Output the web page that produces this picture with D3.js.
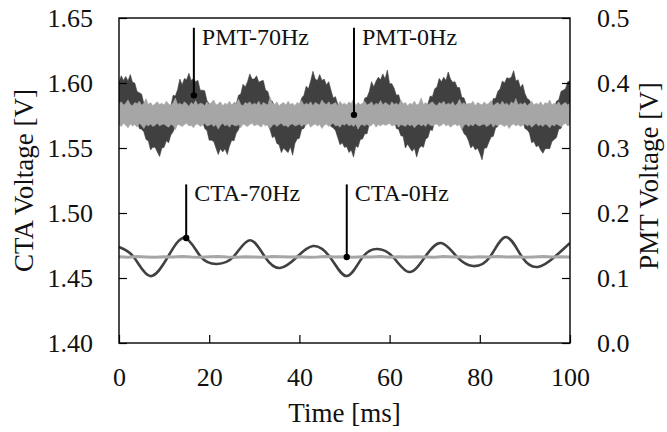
<!DOCTYPE html>
<html>
<head>
<meta charset="utf-8">
<script src="https://cdn.jsdelivr.net/npm/d3@7"></script>
<style>
  body { margin: 0; background: #fff; }
  svg { font-family: "Liberation Serif", "Times New Roman", serif; }
</style>
</head>
<body>
<div id="chart"></div>
<script>
// Time axis [ms]
const timeTicks = [0, 20, 40, 60, 80, 100];
const ctaTicks = [1.40, 1.45, 1.50, 1.55, 1.60, 1.65];
const pmtTicks = [0.0, 0.1, 0.2, 0.3, 0.4, 0.5];

// CTA-70Hz: peaks / troughs / crossings
const cta70Time = [0, 3.3, 6.9, 10.8, 14.6, 18.2, 21.7, 25.3, 29.0, 32.4, 35.7, 39.4, 43.0, 46.8, 50.5, 54.0,
    57.4, 60.8, 64.3, 67.8, 71.4, 75.0, 78.5, 82.2, 85.8, 89.4, 92.9, 96.5, 100];
const cta70Volt = [1.4738, 1.4660, 1.4515, 1.4660, 1.4808, 1.4660, 1.4608, 1.4660, 1.4790, 1.4660, 1.4577, 1.4660,
    1.4746, 1.4660, 1.4515, 1.4660, 1.4723, 1.4660, 1.4546, 1.4660, 1.4769, 1.4660, 1.4592, 1.4660, 1.4815, 1.4660,
    1.4585, 1.4660, 1.4770];

// CTA-0Hz, one value every 2 ms
const cta0StepMs = 2;
const cta0Volt = [1.4663, 1.4660, 1.4665, 1.4662, 1.4659, 1.4664, 1.4661, 1.4666, 1.4662, 1.4660,
    1.4663, 1.4665, 1.4661, 1.4659, 1.4664, 1.4662, 1.4660, 1.4665, 1.4663, 1.4661,
    1.4664, 1.4660, 1.4662, 1.4666, 1.4661, 1.4663, 1.4659, 1.4664, 1.4662, 1.4665,
    1.4660, 1.4663, 1.4661, 1.4664, 1.4662, 1.4659, 1.4665, 1.4661, 1.4663, 1.4660,
    1.4664, 1.4662, 1.4666, 1.4661, 1.4663, 1.4660, 1.4662, 1.4665, 1.4661, 1.4663, 1.4662];

// PMT signals: upper / lower envelope of the noisy trace every 0.5 ms, in mV
const pmtStepMs = 0.5;
const pmt70HighMv = [401, 411, 404,
    410, 403, 413, 401, 400, 387, 385, 383, 369, 367, 354, 353, 354, 345, 347, 351, 345, 353, 355, 365,
    365, 381, 380, 390, 406, 397, 407, 405, 415, 404, 407, 402, 404, 389, 389, 388, 373, 368, 365, 352,
    351, 353, 344, 348, 346, 353, 350, 359, 370, 368, 381, 383, 398, 394, 402, 414, 406,
    406, 411, 401, 403, 404, 389, 387, 374, 372, 364, 363, 351, 351, 350, 345, 350, 344, 353, 356, 367,
    365, 377, 381, 395, 391, 403, 418, 406, 404, 413, 404, 406, 397, 402, 389, 377, 379, 367, 364, 354,
    352, 352, 345, 348, 344, 355, 353, 361, 362, 377, 378, 387, 402, 394, 403, 409, 405,
    414, 406, 420, 399, 399, 392, 381, 382, 370, 367, 355, 354, 354, 346, 348, 344, 353, 351, 359, 358,
    368, 380, 379, 391, 394, 407, 402, 409, 404, 417, 406, 401, 402, 393, 393, 378, 377, 367, 363, 353,
    355, 347, 347, 351, 345, 352, 353, 361, 361, 376, 376, 387, 391, 403, 400, 408, 407,
    409, 419, 403, 405, 393, 398, 384, 376, 374, 366, 355, 358, 350, 350, 344, 347, 352, 350, 358, 359,
    372, 374, 387, 389, 391, 402, 403];
const pmt70LowMv = [353, 352, 359,
    357, 360, 351, 353, 345, 344, 330, 329, 325, 313, 311, 297, 301, 301, 294, 287, 300, 301, 311, 308,
    320, 325, 334, 336, 344, 344, 357, 354, 359, 357, 352, 356, 350, 339, 342, 330, 327, 312, 312, 310,
    300, 290, 299, 294, 299, 290, 303, 312, 311, 323, 328, 338, 339, 347, 348, 357, 355,
    358, 352, 357, 350, 350, 338, 336, 328, 316, 318, 307, 305, 293, 300, 296, 293, 302, 289, 307, 314,
    315, 329, 330, 339, 339, 352, 353, 353, 359, 356, 359, 350, 350, 346, 333, 331, 327, 316, 305, 308,
    301, 302, 293, 297, 286, 303, 301, 313, 314, 322, 322, 337, 339, 348, 351, 350, 359,
    356, 359, 351, 353, 346, 345, 330, 329, 319, 318, 300, 306, 300, 295, 300, 286, 299, 303, 301, 314,
    316, 328, 327, 342, 343, 351, 350, 358, 356, 358, 359, 351, 351, 339, 341, 331, 322, 319, 311, 300,
    304, 297, 300, 292, 282, 300, 300, 309, 317, 318, 331, 333, 345, 342, 352, 357, 354,
    359, 353, 358, 350, 347, 344, 330, 328, 323, 308, 310, 302, 304, 297, 292, 299, 299, 299, 310, 313,
    316, 329, 330, 340, 343, 352, 354];
const pmt0HighMv = [
    368, 371, 366, 369, 374, 367, 365, 370, 368, 372, 366, 369, 376, 367, 370, 365, 368, 371, 367, 369,
    366, 372, 368, 365, 370, 377, 367, 369, 366, 371, 368, 364, 370, 367, 373, 366, 369, 368, 365, 371,
    367, 370, 374, 366, 368, 371, 365, 369, 367, 372, 366, 370, 368, 375, 367, 365, 370, 368, 371, 366,
    369, 367, 372, 365, 370, 368, 366, 378, 369, 367, 371, 365, 368, 370, 366, 372, 367, 369, 365, 370,
    368, 373, 366, 369, 367, 371, 365, 370, 368, 366, 374, 369, 367, 371, 366, 368, 370, 365, 372, 367,
    369, 366, 371, 368, 376, 365, 370, 367, 369, 372, 366, 368, 371, 365, 369, 367, 373, 366, 370, 368,
    365, 371, 367, 369, 366, 374, 368, 370, 365, 369, 367, 372, 366, 368, 377, 367, 370, 366, 369, 371,
    367, 365, 370, 368, 372, 366, 369, 367, 371, 365, 368, 375, 367, 370, 366, 369, 368, 372, 365, 370,
    368, 366, 371, 367, 369, 373, 365, 368, 370, 366, 372, 367, 369, 365, 371, 368, 376, 366, 369, 367,
    370, 365, 368, 372, 366, 369, 367, 371, 365, 370, 368, 374, 366, 369, 367, 371, 365, 368, 370, 366, 369];
const pmt0LowMv = [
    336, 333, 338, 335, 331, 337, 334, 336, 332, 338, 335, 330, 336, 334, 337, 333, 335, 338, 334, 336,
    337, 334, 332, 336, 335, 328, 337, 335, 333, 336, 338, 334, 335, 331, 336, 337, 333, 335, 338, 334,
    335, 337, 333, 336, 329, 335, 338, 334, 336, 332, 337, 335, 334, 336, 331, 337, 335, 333, 336, 338,
    334, 336, 335, 332, 337, 334, 336, 330, 335, 337, 333, 336, 338, 334, 335, 332, 336, 337, 334, 335,
    337, 333, 336, 335, 338, 332, 335, 337, 334, 336, 330, 335, 337, 333, 336, 338, 334, 335, 332, 337,
    335, 338, 334, 336, 333, 337, 329, 335, 336, 334, 337, 333, 335, 338, 332, 336, 334, 337, 335, 336,
    338, 334, 335, 337, 332, 336, 335, 333, 337, 334, 336, 331, 335, 337, 334, 336, 333, 338, 335, 334,
    336, 337, 333, 335, 338, 334, 336, 332, 335, 337, 334, 336, 328, 335, 337, 333, 336, 334, 338, 335,
    334, 336, 337, 333, 335, 338, 332, 336, 334, 337, 335, 333, 336, 330, 335, 337, 334, 336, 333, 335,
    337, 334, 336, 332, 335, 338, 334, 336, 333, 337, 335, 331, 336, 334, 337, 335, 333, 336, 338, 334, 336];

// Annotations (dot on the trace, leader line up to "top")
const annLabels = ["PMT-70Hz", "PMT-0Hz", "CTA-70Hz", "CTA-0Hz"];
const annAxis = ["pmt", "pmt", "cta", "cta"];
const annTime = [16.6, 52.1, 14.9, 50.5];
const annValue = [0.381, 0.351, 1.4808, 1.4662];
const annTop = [0.485, 0.485, 1.522, 1.522];

const darkColor = "#404040";
const greyColor = "#a6a6a6";

const W = 667, H = 432;
const margin = { top: 18, right: 97, bottom: 89, left: 119 };
const width = W - margin.left - margin.right;
const height = H - margin.top - margin.bottom;

const svg = d3.select("#chart")
    .append("svg")
    .attr("width", W)
    .attr("height", H);

const g = svg.append("g")
    .attr("transform", `translate(${margin.left},${margin.top})`);

const x = d3.scaleLinear().domain([0, 100]).range([0, width]);
const yCta = d3.scaleLinear().domain([1.40, 1.65]).range([height, 0]);
const yPmt = d3.scaleLinear().domain([0, 0.5]).range([height, 0]);

// clip to plot area
g.append("clipPath").attr("id", "clip")
    .append("rect").attr("width", width).attr("height", height);
const plot = g.append("g").attr("clip-path", "url(#clip)");

// PMT bands
function pmtBand(hi, lo) {
    return hi.map((v, i) => ({ t: i * pmtStepMs, hi: v / 1000, lo: lo[i] / 1000 }));
}
const band = d3.area()
    .x(d => x(d.t))
    .y0(d => yPmt(d.lo))
    .y1(d => yPmt(d.hi));

plot.append("path")
    .datum(pmtBand(pmt70HighMv, pmt70LowMv))
    .attr("d", band)
    .attr("fill", darkColor)
    .attr("stroke", darkColor)
    .attr("stroke-width", 0.6);

plot.append("path")
    .datum(pmtBand(pmt0HighMv, pmt0LowMv))
    .attr("d", band)
    .attr("fill", greyColor)
    .attr("stroke", greyColor)
    .attr("stroke-width", 0.6);

// CTA lines
plot.append("path")
    .datum(cta70Time.map((t, i) => ({ t: t, v: cta70Volt[i] })))
    .attr("d", d3.line().x(d => x(d.t)).y(d => yCta(d.v)).curve(d3.curveNatural))
    .attr("fill", "none")
    .attr("stroke", darkColor)
    .attr("stroke-width", 2.6);

plot.append("path")
    .datum(cta0Volt.map((v, i) => ({ t: i * cta0StepMs, v: v })))
    .attr("d", d3.line().x(d => x(d.t)).y(d => yCta(d.v)))
    .attr("fill", "none")
    .attr("stroke", greyColor)
    .attr("stroke-width", 3);

// Axes (ticks pointing inward)
const fontTick = "26px";

const xAxis = g.append("g")
    .attr("transform", `translate(0,${height})`)
    .call(d3.axisBottom(x).tickValues(timeTicks).tickSizeInner(-8).tickSizeOuter(0).tickPadding(25));

const yAxisL = g.append("g")
    .call(d3.axisLeft(yCta).tickValues(ctaTicks).tickFormat(d3.format(".2f"))
        .tickSizeInner(-8).tickSizeOuter(0).tickPadding(26));

const yAxisR = g.append("g")
    .attr("transform", `translate(${width},0)`)
    .call(d3.axisRight(yPmt).tickValues(pmtTicks).tickFormat(d3.format(".1f"))
        .tickSizeInner(-8).tickSizeOuter(0).tickPadding(27));

[xAxis, yAxisL, yAxisR].forEach(a => {
    a.select(".domain").remove();
    a.selectAll(".tick line").attr("stroke", "#000").attr("stroke-width", 1.2);
    a.selectAll(".tick text")
        .attr("fill", "#111")
        .style("font-family", "'Liberation Serif', serif")
        .style("font-size", fontTick);
});

// Frame
g.append("rect")
    .attr("width", width)
    .attr("height", height)
    .attr("fill", "none")
    .attr("stroke", "#000")
    .attr("stroke-width", 1.4);

// Annotations
annLabels.forEach((label, i) => {
    const sy = annAxis[i] === "pmt" ? yPmt : yCta;
    const px = x(annTime[i]);
    const py = sy(annValue[i]);
    const top = sy(annTop[i]);

    g.append("line")
        .attr("x1", px).attr("x2", px)
        .attr("y1", py).attr("y2", top)
        .attr("stroke", "#000")
        .attr("stroke-width", 2);

    g.append("circle")
        .attr("cx", px).attr("cy", py)
        .attr("r", 3.2)
        .attr("fill", "#000");

    g.append("text")
        .attr("x", px + 8)
        .attr("y", top + 17)
        .text(label)
        .style("font-size", "24px")
        .attr("fill", "#111");
});

// Axis titles
g.append("text")
    .attr("transform", `translate(${33 - margin.left},${height / 2}) rotate(-90)`)
    .attr("text-anchor", "middle")
    .style("font-size", "27px")
    .attr("fill", "#111")
    .text("CTA Voltage [V]");

g.append("text")
    .attr("transform", `translate(${658 - margin.left},${176 - margin.top}) rotate(-90)`)
    .attr("text-anchor", "middle")
    .style("font-size", "27px")
    .attr("fill", "#111")
    .text("PMT Voltage [V]");

g.append("text")
    .attr("x", width / 2)
    .attr("y", 422 - margin.top)
    .attr("text-anchor", "middle")
    .style("font-size", "27px")
    .attr("fill", "#111")
    .text("Time [ms]");
</script>
</body>
</html>
